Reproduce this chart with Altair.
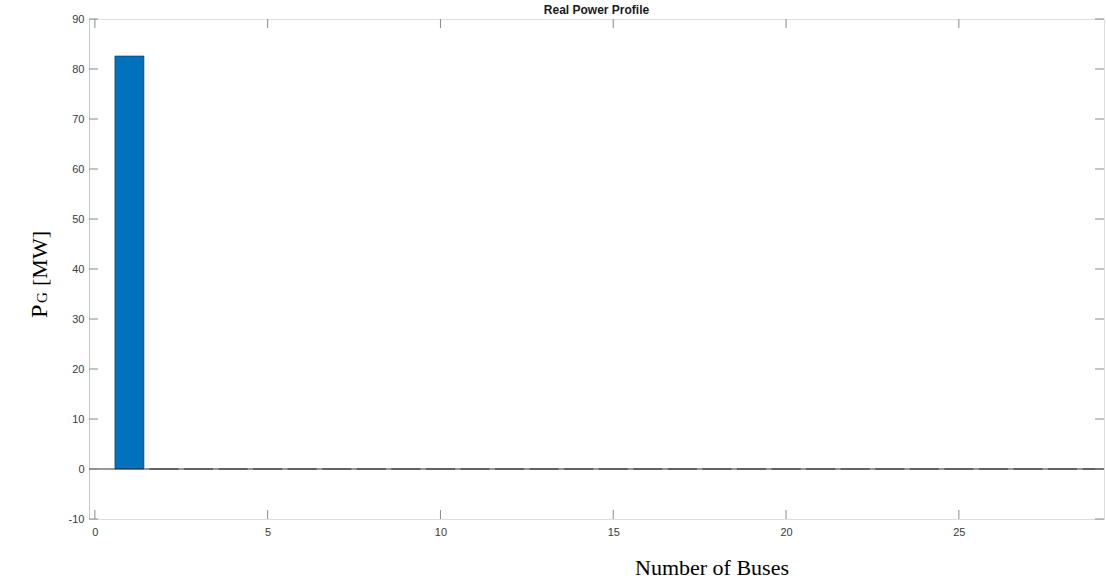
import altair as alt
import pandas as pd

# Data
buses = list(range(1, 30))
pg_mw = [82.6] + [0.0] * 28
x_ticks = [0, 5, 10, 15, 20, 25]
y_ticks = [-10, 0, 10, 20, 30, 40, 50, 60, 70, 80, 90]

W, H = 1015, 500
XDOM = [-0.17, 29.2]
YDOM = [-10, 90]

df = pd.DataFrame({"bus": buses, "pg": pg_mw})
xt = pd.DataFrame({"t": x_ticks})
yt = pd.DataFrame({"t": y_ticks})

xs = alt.Scale(domain=XDOM, nice=False, zero=False)
ys = alt.Scale(domain=YDOM, nice=False, zero=False)

xaxis = alt.Axis(values=x_ticks, ticks=False, domain=False, grid=False,
                 labelFont="Liberation Sans", labelFontSize=11, labelColor="#3a3a3a",
                 labelPadding=7, title=None, labelExpr="datum.value + ''")
yaxis = alt.Axis(values=y_ticks, ticks=False, domain=True, domainColor="#c8c8c8",
                 grid=False, labelFont="Liberation Sans", labelFontSize=11,
                 labelColor="#3a3a3a", labelPadding=5, title=None,
                 labelExpr="datum.value + ''")

bars = alt.Chart(df).transform_calculate(
    x0="datum.bus - 0.42", x1="datum.bus + 0.42"
).mark_bar(color="#0072BD", stroke="#2a2a2a", strokeWidth=0.6, clip=True).encode(
    x=alt.X("x0:Q", scale=xs, axis=xaxis),
    x2="x1:Q",
    y=alt.Y("pg:Q", scale=ys, axis=yaxis),
    y2=alt.datum(0),
)

zero = alt.Chart(pd.DataFrame({"z": [0]})).mark_rule(color="#333333", strokeWidth=1).encode(
    y=alt.Y("z:Q", scale=ys)
)

xt_bot = alt.Chart(xt).mark_rule(color="#8a8a8a").encode(
    x=alt.X("t:Q", scale=xs), y=alt.value(H), y2=alt.value(H - 9))
xt_top = alt.Chart(xt).mark_rule(color="#8a8a8a").encode(
    x=alt.X("t:Q", scale=xs), y=alt.value(0), y2=alt.value(9))
yt_left = alt.Chart(yt).mark_rule(color="#8a8a8a").encode(
    y=alt.Y("t:Q", scale=ys), x=alt.value(0), x2=alt.value(9))
yt_right = alt.Chart(yt).mark_rule(color="#8a8a8a").encode(
    y=alt.Y("t:Q", scale=ys), x=alt.value(W), x2=alt.value(W - 9))

title = alt.Chart(pd.DataFrame({"s": ["Real Power Profile"]})).mark_text(
    font="Liberation Sans", fontSize=12, fontWeight="bold", color="#1a1a1a",
    align="center", baseline="alphabetic").encode(
    text="s:N", x=alt.value(W / 2), y=alt.value(-5))

xtitle = alt.Chart(pd.DataFrame({"s": ["Number of Buses"]})).mark_text(
    font="Liberation Serif", fontSize=22, color="#000000",
    align="center", baseline="alphabetic").encode(
    text="s:N", x=alt.value(623), y=alt.value(556))

yt_p = alt.Chart(pd.DataFrame({"s": ["P"]})).mark_text(
    font="Liberation Serif", fontSize=24, color="#000000", angle=270,
    align="left", baseline="alphabetic").encode(
    text="s:N", x=alt.value(-42), y=alt.value(299))
yt_g = alt.Chart(pd.DataFrame({"s": ["G"]})).mark_text(
    font="Liberation Serif", fontSize=15, color="#000000", angle=270,
    align="left", baseline="alphabetic").encode(
    text="s:N", x=alt.value(-42), y=alt.value(284))
yt_mw = alt.Chart(pd.DataFrame({"s": ["[MW]"]})).mark_text(
    font="Liberation Serif", fontSize=22, color="#000000", angle=270,
    align="left", baseline="alphabetic").encode(
    text="s:N", x=alt.value(-42), y=alt.value(267))

chart = alt.layer(
    bars, zero, xt_bot, xt_top, yt_left, yt_right, title, xtitle, yt_p, yt_g, yt_mw
).properties(
    width=W, height=H,
    autosize=alt.AutoSizeParams(type="none"),
    padding={"left": 89, "top": 19, "right": 2, "bottom": 63},
).configure_view(stroke="#666666", strokeWidth=1).configure(background="white")

chart.save("out.html", embed_options={"renderer": "svg", "actions": False})
